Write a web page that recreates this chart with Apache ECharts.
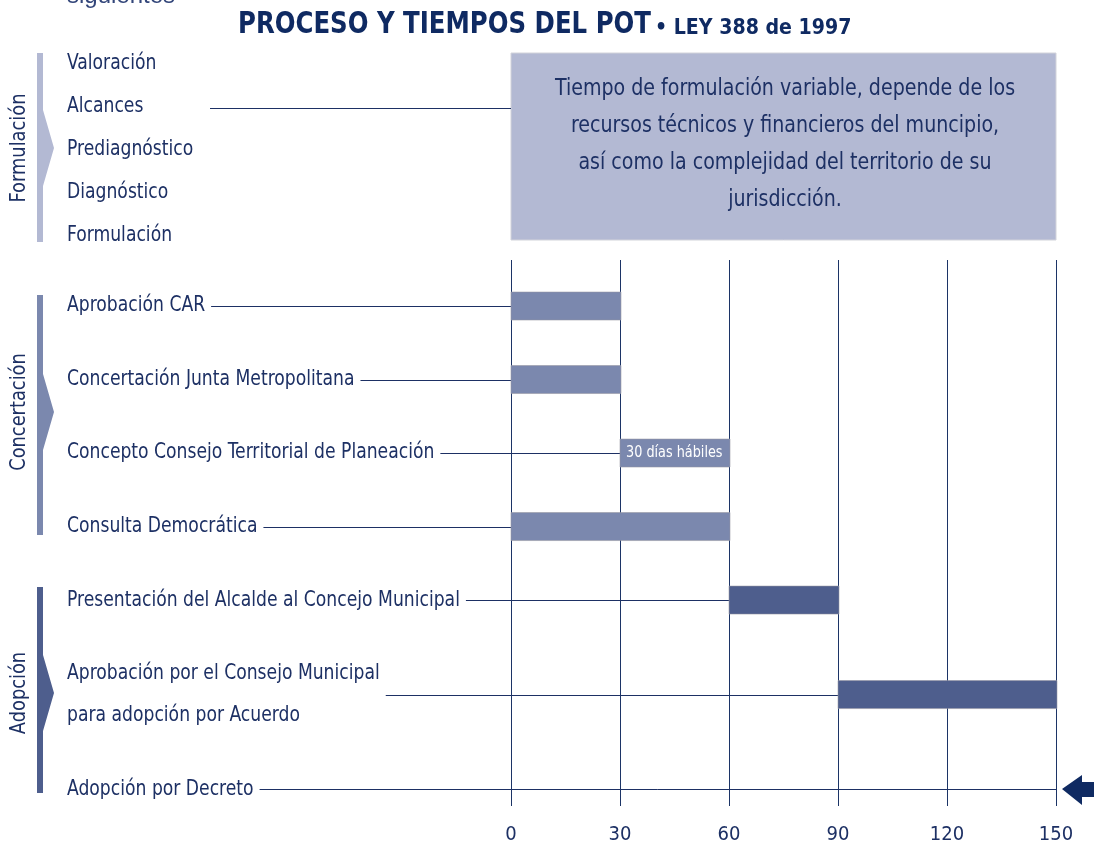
<!DOCTYPE html>
<html>
<head>
<meta charset="utf-8">
<script src="https://cdn.jsdelivr.net/npm/echarts@6/dist/echarts.min.js"></script>
<style>
  html, body { margin: 0; padding: 0; background: #fff; }
  #chart { width: 1105px; height: 848px; }
</style>
</head>
<body>
<div id="chart"></div>
<script>
const FONT = '"Liberation Sans Narrow", "DejaVu Sans Condensed", "Roboto", sans-serif';
const NAVY = '#1d3064';

// data
const formulacionSteps = ['Valoración', 'Alcances', 'Prediagnóstico', 'Diagnóstico', 'Formulación'];
const formulacionNote = 'Tiempo de formulación variable, depende de los\nrecursos técnicos y financieros del muncipio,\nasí como la complejidad del territorio de su\njurisdicción.';
const tasks = [
    'Aprobación CAR',
    'Concertación Junta Metropolitana',
    'Concepto Consejo Territorial de Planeación',
    'Consulta Democrática',
    'Presentación del Alcalde al Concejo Municipal',
    'Aprobación por el Consejo Municipal\npara adopción por Acuerdo',
    'Adopción por Decreto'
];
const taskPhase = ['Concertación', 'Concertación', 'Concertación', 'Concertación', 'Adopción', 'Adopción', 'Adopción'];
const taskStart = [0, 0, 30, 0, 60, 90, 150];
const taskEnd = [30, 30, 60, 60, 90, 150, 150];
const barNotes = ['', '', '30 días hábiles', '', '', '', ''];
const dayTicks = [0, 30, 60, 90, 120, 150];

const phaseColor = {
    'Formulación': '#b3b9d3',
    'Concertación': '#7b88ae',
    'Adopción': '#4e5e8d'
};

// row positions: a two-line label makes its row taller
const extraLine = 42 / 73.5;
const rowH = tasks.map(t => 1 + (t.split('\n').length - 1) * extraLine);
const rowPos = [];
rowH.forEach((h, i) => {
    rowPos.push(i === 0 ? h / 2 : rowPos[i - 1] + (rowH[i - 1] + h) / 2);
});

const measure = (() => {
    const ctx = document.createElement('canvas').getContext('2d');
    return (txt, font) => {
        ctx.font = font;
        return Math.max.apply(null, txt.split('\n').map(l => ctx.measureText(l).width));
    };
})();

// the original uses a narrow face, squeeze the condensed one a bit
const LABEL_FONT = '21px ' + FONT;
const SQ = 0.91;

const chart = echarts.init(document.getElementById('chart'));

// side brackets with a chevron
const bracket = (top, bottom, mid, color) => ({
    type: 'polygon',
    shape: {
        points: [[37, top], [43, top], [43, mid - 38], [54, mid], [43, mid + 38], [43, bottom], [37, bottom]]
    },
    style: { fill: color }
});
const sideLabel = (txt, y) => ({
    type: 'text',
    x: 19, y: y, rotation: Math.PI / 2, scaleX: 0.9,
    style: { text: txt, fill: NAVY, font: '22px ' + FONT, align: 'center', verticalAlign: 'middle' }
});

const graphics = [
    {
        type: 'text', x: 67, y: -16,
        style: { text: 'siguientes', fill: '#33467a', font: '24px "Liberation Sans", Arial, sans-serif' }
    },
    {
        type: 'text', x: 238, y: 25, scaleX: 0.905,
        style: { text: 'PROCESO Y TIEMPOS DEL POT', fill: '#0f2a62', font: 'bold 30px ' + FONT, verticalAlign: 'middle' }
    },
    {
        type: 'text', x: 655, y: 28, scaleX: 0.96,
        style: { text: '• LEY 388 de 1997', fill: '#0f2a62', font: 'bold 22px ' + FONT, verticalAlign: 'middle' }
    },
    bracket(53, 242, 148, phaseColor['Formulación']),
    bracket(295, 535, 412, phaseColor['Concertación']),
    bracket(587, 793, 693, phaseColor['Adopción']),
    sideLabel('Formulación', 148),
    sideLabel('Concertación', 412),
    sideLabel('Adopción', 693),
    {
        type: 'rect',
        shape: { x: 511, y: 53, width: 545, height: 187 },
        style: { fill: '#b3b9d3', stroke: '#d2d3da', lineWidth: 1 }
    },
    {
        type: 'text', x: 785, y: 145, scaleX: 0.92,
        style: {
            text: formulacionNote, fill: NAVY, font: '23px ' + FONT,
            align: 'center', verticalAlign: 'middle', lineHeight: 37
        }
    },
    {
        type: 'line',
        shape: { x1: 210, y1: 108.5, x2: 511, y2: 108.5 },
        style: { stroke: NAVY, lineWidth: 1 }
    }
];
formulacionSteps.forEach((s, i) => {
    graphics.push({
        type: 'text', x: 67, y: 64 + i * 43, scaleX: SQ,
        style: { text: s, fill: NAVY, font: LABEL_FONT, verticalAlign: 'middle' }
    });
});

const option = {
    animation: false,
    grid: { left: 511, right: 49, top: 260, bottom: 42 },
    xAxis: {
        type: 'value', min: 0, max: 150, interval: 30,
        axisLine: { show: false },
        axisTick: { show: false },
        splitLine: { show: true, lineStyle: { color: '#1c3466', width: 1 } },
        axisLabel: {
            margin: 19, color: NAVY, fontSize: 20, fontFamily: FONT,
            formatter: v => dayTicks.indexOf(v) >= 0 ? String(v) : ''
        }
    },
    yAxis: {
        type: 'value', inverse: true, show: false,
        min: rowPos[0] - 0.626,
        max: rowPos[rowPos.length - 1] + 0.23,
        splitLine: { show: false }
    },
    graphic: graphics,
    series: [{
        type: 'custom',
        encode: { x: [0, 1], y: 2 },
        data: tasks.map((t, i) => [taskStart[i], taskEnd[i], rowPos[i], i]),
        renderItem: (params, api) => {
            const i = api.value(3);
            const s = api.coord([api.value(0), api.value(2)]);
            const e = api.coord([api.value(1), api.value(2)]);
            const y = Math.round(s[1]) + 0.5;
            const lw = measure(tasks[i], LABEL_FONT) * SQ;
            const children = [
                {
                    type: 'text',
                    x: 67, y: s[1], scaleX: SQ,
                    style: {
                        x: 0, y: 0, text: tasks[i], fill: NAVY,
                        font: LABEL_FONT, verticalAlign: 'middle', lineHeight: 42
                    }
                },
                {
                    type: 'line',
                    shape: { x1: 67 + lw + 6, y1: y, x2: s[0], y2: y },
                    style: { stroke: NAVY, lineWidth: 1 }
                }
            ];
            if (e[0] > s[0]) {
                children.push({
                    type: 'rect',
                    shape: { x: s[0], y: s[1] - 14, width: e[0] - s[0] + 1, height: 28 },
                    style: { fill: phaseColor[taskPhase[i]], stroke: 'rgba(150,150,160,0.55)', lineWidth: 1 }
                });
                if (barNotes[i]) {
                    children.push({
                        type: 'text',
                        x: s[0] + 6, y: s[1], scaleX: 0.95,
                        style: {
                            x: 0, y: 0, text: barNotes[i], fill: '#fff',
                            font: '15px ' + FONT, verticalAlign: 'middle'
                        }
                    });
                }
            } else {
                const x = e[0] + 6, c = s[1];
                children.push({
                    type: 'polygon',
                    shape: {
                        points: [[x, c], [x + 20, c - 14], [x + 20, c - 7], [x + 32, c - 7],
                            [x + 32, c + 8], [x + 20, c + 8], [x + 20, c + 16]]
                    },
                    style: { fill: '#0f2a62' }
                });
            }
            return { type: 'group', children: children };
        }
    }]
};
chart.setOption(option);
</script>
</body>
</html>
